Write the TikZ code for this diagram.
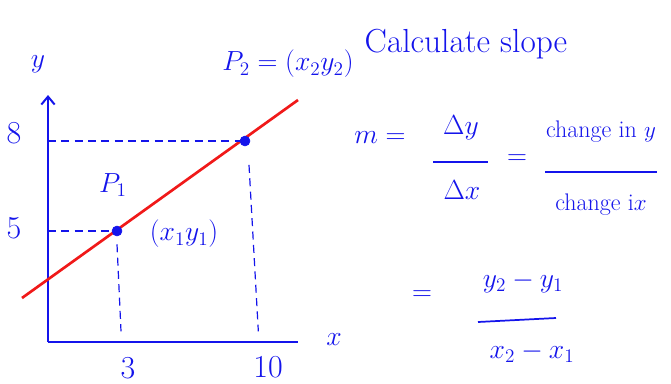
\documentclass[tikz,border=0pt]{standalone}
\usetikzlibrary{arrows.meta}
\definecolor{hblue}{RGB}{20,20,235}
\definecolor{hred}{RGB}{240,25,25}
\begin{document}
\begin{tikzpicture}[x=0.75pt,y=-0.75pt,
  hand/.style={text=hblue,inner sep=0pt,font=\fontsize{22}{26}\selectfont},
  digit/.style={text=hblue,inner sep=0pt,font=\fontsize{24}{28}\selectfont},
  handsm/.style={text=hblue,inner sep=0pt,font=\fontsize{18}{21}\selectfont},
  axisline/.style={draw=hblue,line width=1.5pt},
  guide/.style={draw=hblue,line width=0.9pt,dash pattern=on 6pt off 4pt},
  dotpt/.style={circle,fill=hblue,draw=hblue,inner sep=0pt,minimum size=7.5pt},
  bar/.style={draw=hblue,line width=1.3pt}]
\useasboundingbox (0,0) rectangle (671,383);
% axes
\coordinate (O) at (48,342);
\coordinate (ytop) at (48,95);
\coordinate (xend) at (298,342);
\draw[axisline,-{Straight Barb[length=6pt,width=10pt]}] (O) -- (ytop);
\draw[axisline] (O) -- (xend);
% red line
\coordinate (L0) at (22,298);
\coordinate (L1) at (298,100);
\draw[draw=hred,line width=2pt] (L0) -- (L1);
% points
\node[dotpt] (P1) at (117,231) {};
\node[dotpt] (P2) at (245,141) {};
% guides
\draw[guide] (O |- P2) -- (P2);
\draw[guide] (O |- P1) -- (P1);
\draw[guide] ([yshift=-6pt]P1.south) -- ([xshift=3pt,yshift=8pt]P1 |- O);
\draw[guide] ([yshift=-14pt,xshift=3pt]P2.south) -- ([xshift=10pt,yshift=8pt]P2 |- O);
% axis labels
\node[hand] (ylab) at (38,64) {$y$};
\node[hand] (xlab) at (334,340) {$x$};
\node[digit] (t8) at (14,133) {8};
\node[digit] (t5) at (14,228) {5};
\node[digit] (t3) at (128,368) {3};
\node[digit] (t10) at (268,367) {10};
\node[hand] (p1lab) at (113,185) {$P_1$};
\node[hand] (p1c) at (184,234) {$(x_1y_1)$};
\node[hand] (p2lab) at (288,64) {$P_2=(x_2y_2)$};
% right side
\node[hand,font=\fontsize{25}{29}\selectfont] (title) at (466,44) {Calculate slope};
\node[hand] (m) at (380,138) {$m=$};
\node[hand] (dy) at (461,128) {$\Delta y$};
\draw[bar] (433,162) -- (488,162);
\node[hand] (dx) at (462,190) {$\Delta x$};
\node[hand] (eq1) at (517,160) {$=$};
\node[handsm] (cy) at (601,132) {change in $y$};
\draw[bar] (545,172) -- (657,172);
\node[handsm] (cx) at (601,205) {change i$x$};
\node[hand] (eq2) at (422,296) {$=$};
\node[hand] (num) at (523,282) {$y_2-y_1$};
\draw[bar] (478,322) -- (556,318);
\node[hand] (den) at (532,352) {$x_2-x_1$};
\end{tikzpicture}
\end{document}
